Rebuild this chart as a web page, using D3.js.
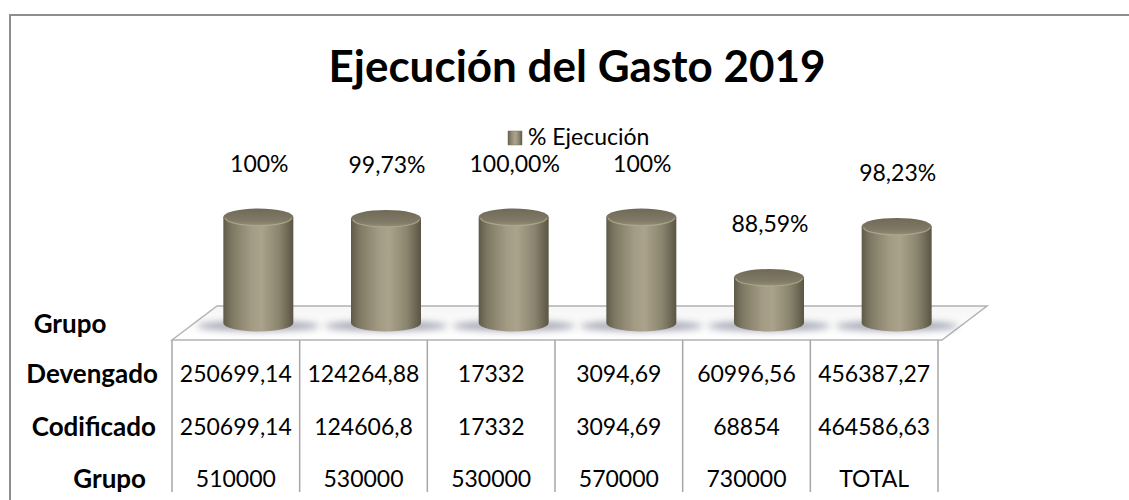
<!DOCTYPE html>
<html>
<head>
<meta charset="utf-8">
<script src="https://cdn.jsdelivr.net/npm/d3@7"></script>
<style>
  html, body { margin: 0; padding: 0; background: #fff; }
  svg { display: block; font-family: Lato, "Open Sans", sans-serif; }
</style>
</head>
<body>
<svg id="chart" width="1129" height="500"></svg>
<script>
// Budget execution by group, 2019
const groups      = ["510000", "530000", "530000", "570000", "730000", "TOTAL"];
const ejecucion   = [100, 99.73, 100, 100, 88.59, 98.23];
const ejecLabels  = ["100%", "99,73%", "100,00%", "100%", "88,59%", "98,23%"];
const devengado   = ["250699,14", "124264,88", "17332", "3094,69", "60996,56", "456387,27"];
const codificado  = ["250699,14", "124606,8", "17332", "3094,69", "68854", "464586,63"];
const rowNames    = ["Devengado", "Codificado", "Grupo"];
const axisDomain  = [80, 100];

const svg = d3.select("#chart");
const W = 1129, H = 500;

// layout
const tableLeft = 172, tableRight = 938;
const floorFront = 340, depthX = 45, depthY = 34;
const baseY = floorFront - depthY / 2;       // cylinder base centre line
const radius = 35, ry = 8.5;

const x = d3.scaleBand().domain(d3.range(groups.length)).range([tableLeft, tableRight]).padding(0);
const y = d3.scaleLinear().domain(axisDomain).range([baseY, baseY - 106]);

const defs = svg.append("defs");
const bodyGrad = defs.append("linearGradient").attr("id", "cylBody").attr("x1", 0).attr("x2", 1).attr("y1", 0).attr("y2", 0);
[[0, "#5f5a48"], [0.12, "#7e7863"], [0.4, "#a39b84"], [0.55, "#aaa28b"], [0.8, "#8a846e"], [1, "#5a5544"]]
  .forEach(([o, c]) => bodyGrad.append("stop").attr("offset", o).attr("stop-color", c));
const capGrad = defs.append("linearGradient").attr("id", "cylTop").attr("x1", 0).attr("x2", 0).attr("y1", 0).attr("y2", 1);
[[0, "#6f6a57"], [0.7, "#7f7965"], [1, "#948e78"]]
  .forEach(([o, c]) => capGrad.append("stop").attr("offset", o).attr("stop-color", c));
const floorGrad = defs.append("linearGradient").attr("id", "floorFill").attr("x1", 0).attr("x2", 0).attr("y1", 0).attr("y2", 1);
[[0, "#f6f6f6"], [1, "#ffffff"]].forEach(([o, c]) => floorGrad.append("stop").attr("offset", o).attr("stop-color", c));
defs.append("filter").attr("id", "soft").attr("x", "-50%").attr("y", "-200%").attr("width", "200%").attr("height", "500%")
  .append("feGaussianBlur").attr("stdDeviation", 3.5);

// outer frame
svg.append("path")
  .attr("d", `M10,${H} L10,15 L${W},15`)
  .attr("fill", "none").attr("stroke", "#8e8e8e").attr("stroke-width", 2);

// title
svg.append("text")
  .attr("x", 577).attr("y", 82)
  .attr("text-anchor", "middle")
  .attr("font-weight", 700).attr("font-size", 44)
  .attr("fill", "#000")
  .text("Ejecución del Gasto 2019");

// legend
svg.append("rect").attr("x", 508).attr("y", 131).attr("width", 14).attr("height", 14)
  .attr("fill", "url(#cylBody)").attr("stroke", "#7a745f").attr("stroke-width", 0.5);
svg.append("text").attr("x", 528).attr("y", 145).attr("font-size", 23).attr("fill", "#000").text("% Ejecución");

// floor
const fl = [[tableLeft, floorFront], [tableLeft + depthX, floorFront - depthY],
            [tableRight + depthX + 4, floorFront - depthY], [tableRight + 4, floorFront]];
svg.append("path")
  .attr("d", "M" + fl.map(p => p.join(",")).join("L") + "Z")
  .attr("fill", "url(#floorFill)").attr("stroke", "#b3b3b3").attr("stroke-width", 1.5);

// cylinders
const cx = i => x(i) + x.bandwidth() / 2 + depthX / 2;
const cyl = svg.append("g").selectAll("g").data(ejecucion).join("g");

cyl.append("ellipse")
  .attr("cx", (d, i) => cx(i)).attr("cy", baseY + 3)
  .attr("rx", radius + 26).attr("ry", 5)
  .attr("fill", "#6a6e84").attr("opacity", 0.6).attr("filter", "url(#soft)");

cyl.append("path")
  .attr("d", (d, i) => {
    const c = cx(i), t = y(d);
    return `M${c - radius},${t} L${c - radius},${baseY} A${radius},${ry} 0 0 0 ${c + radius},${baseY} L${c + radius},${t} Z`;
  })
  .attr("fill", "url(#cylBody)");

cyl.append("ellipse")
  .attr("cx", (d, i) => cx(i)).attr("cy", d => y(d))
  .attr("rx", radius).attr("ry", ry)
  .attr("fill", "url(#cylTop)");

cyl.append("path")
  .attr("d", (d, i) => {
    const c = cx(i), t = y(d);
    return `M${c - radius + 2},${t + 1} A${radius - 2},${ry - 1} 0 0 0 ${c + radius - 2},${t + 1}`;
  })
  .attr("fill", "none").attr("stroke", "#b3ab94").attr("stroke-width", 1.2).attr("opacity", 0.8);

// data labels
svg.append("g").selectAll("text").data(ejecLabels).join("text")
  .attr("x", (d, i) => cx(i) + 1)
  .attr("y", (d, i) => y(ejecucion[i]) - 45)
  .attr("text-anchor", "middle").attr("font-size", 23).attr("fill", "#000")
  .text(d => d);

// axis title above the table
svg.append("text").attr("x", 70).attr("y", 333).attr("text-anchor", "middle")
  .attr("font-weight", 700).attr("font-size", 26).text("Grupo");

// data table
const tableBottom = 492;
svg.append("g").selectAll("line").data(d3.range(groups.length + 1)).join("line")
  .attr("x1", i => i < groups.length ? x(i) : tableRight)
  .attr("x2", i => i < groups.length ? x(i) : tableRight)
  .attr("y1", floorFront).attr("y2", tableBottom)
  .attr("stroke", "#a6a6a6").attr("stroke-width", 1.5);

const rows = [devengado, codificado, groups];
const rowBaselines = [382, 435, 487];
const rowLabelRight = [158, 156, 146];

rows.forEach((vals, r) => {
  svg.append("text").attr("x", rowLabelRight[r]).attr("y", rowBaselines[r] + 1)
    .attr("text-anchor", "end").attr("font-weight", 700).attr("font-size", 26)
    .text(rowNames[r]);
  svg.append("g").selectAll("text").data(vals).join("text")
    .attr("x", (d, i) => x(i) + x.bandwidth() / 2)
    .attr("y", rowBaselines[r])
    .attr("text-anchor", "middle").attr("font-size", 23).attr("fill", "#000")
    .text(d => d);
});
</script>
</body>
</html>
